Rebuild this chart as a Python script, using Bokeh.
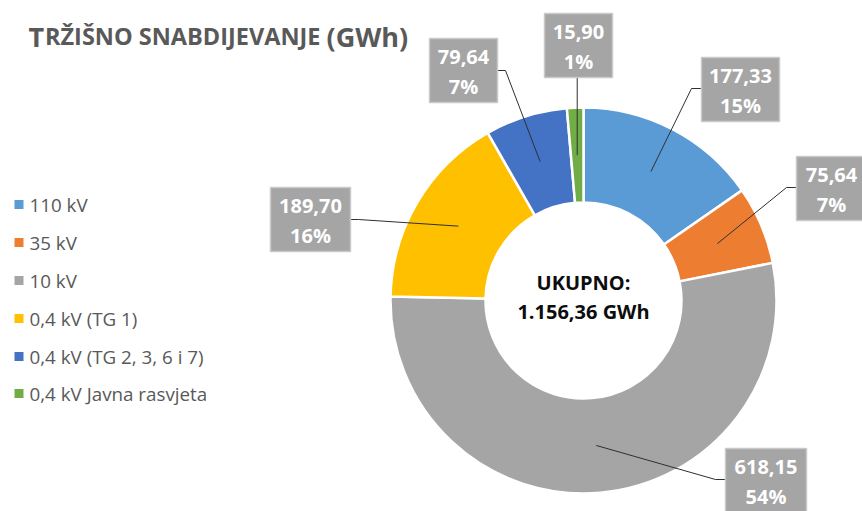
import math
from bokeh.plotting import figure
from bokeh.models import Range1d
from bokeh.core.properties import value
from bokeh.embed import file_html
from bokeh.resources import INLINE

# ---------------- data ----------------
categories = ["110 kV", "35 kV", "10 kV", "0,4 kV (TG 1)",
              "0,4 kV (TG 2, 3, 6 i 7)", "0,4 kV Javna rasvjeta"]
values = [177.33, 75.64, 618.15, 189.70, 79.64, 15.90]
pct_labels = ["15%", "7%", "54%", "16%", "7%", "1%"]
colors = ["#5B9BD5", "#ED7D31", "#A5A5A5", "#FFC000", "#4472C4", "#70AD47"]
title_parts = ["T", "RŽIŠNO SNABDIJEVANJE", "(GWh)"]
total_caption = "UKUPNO:"
unit = "GWh"

# ---------------- layout (screen px) ----------------
W, H = 862, 511
def sy(y):  # screen y -> data y
    return H - y

CX, CY = 583, sy(300)
R_OUT, R_IN = 193, 98
R_MID = (R_OUT + R_IN) / 2

# label boxes: center x, center y (screen), width, attach side
boxes = [
    (740, 89, 78, "left"),
    (831, 188, 70, "left"),
    (765.5, 480, 81, "left"),
    (310, 219, 80, "right"),
    (463, 70, 68, "right"),
    (578, 45, 68, "bottom"),
]
BOX_H = 64

p = figure(width=W, height=H, output_backend="svg", toolbar_location=None,
           x_range=Range1d(0, W), y_range=Range1d(0, H),
           x_axis_type=None, y_axis_type=None, min_border=0,
           outline_line_color=None, background_fill_color="white",
           border_fill_color="white")
p.grid.visible = False

total = sum(values)
fracs = [v / total for v in values]
cum = [0.0]
for f in fracs:
    cum.append(cum[-1] + f)

# clockwise from 12 o'clock
starts = [math.pi / 2 - 2 * math.pi * cum[i + 1] for i in range(len(values))]
ends = [math.pi / 2 - 2 * math.pi * cum[i] for i in range(len(values))]

p.annular_wedge(x=CX, y=CY, inner_radius=R_IN, outer_radius=R_OUT,
                start_angle=starts, end_angle=ends, fill_color=colors,
                line_color="white", line_width=2.5)

# leader lines
xs, ys = [], []
for i, (bx, by, bw, side) in enumerate(boxes):
    theta = 2 * math.pi * (cum[i] + cum[i + 1]) / 2
    ax = CX + R_MID * math.sin(theta)
    ay = CY + R_MID * math.cos(theta)
    if side == "left":
        px0, py0 = bx - bw / 2, sy(by - 1)
        ex, ey = px0 - 10, py0
        xs.append([px0, ex, ax]); ys.append([py0, ey, ay])
    elif side == "right":
        px0, py0 = bx + bw / 2, sy(by)
        ex, ey = px0 + 8, py0
        xs.append([px0, ex, ax]); ys.append([py0, ey, ay])
    else:
        px0, py0 = ax, sy(by + BOX_H / 2)
        xs.append([px0, ax]); ys.append([py0, ay])
p.multi_line(xs=xs, ys=ys, line_color="#303030", line_width=1)

# label boxes
p.rect(x=[b[0] for b in boxes], y=[sy(b[1]) for b in boxes],
       width=[b[2] for b in boxes], height=BOX_H,
       fill_color="#A5A5A5", line_color="#C9C9C9", line_width=1.5)

val_labels = [f"{v:.2f}".replace(".", ",") for v in values]
p.text(x=[b[0] for b in boxes], y=[sy(b[1] - 14) for b in boxes], text=val_labels,
       text_font=value("Open Sans"), text_font_size=value("20px"),
       text_font_style="bold", text_color="white",
       text_align="center", text_baseline="middle")
p.text(x=[b[0] for b in boxes], y=[sy(b[1] + 16) for b in boxes], text=pct_labels,
       text_font=value("Open Sans"), text_font_size=value("20px"),
       text_font_style="bold", text_color="white",
       text_align="center", text_baseline="middle")

# center text
tot_str = f"{total:,.2f}".replace(",", "X").replace(".", ",").replace("X", ".")
p.text(x=[CX, CX], y=[sy(282), sy(311)], text=[total_caption, f"{tot_str} {unit}"],
       text_font=value("Open Sans"), text_font_size=value("20px"),
       text_font_style="bold", text_color="#0D0D0D",
       text_align="center", text_baseline="middle")

# legend
leg_y = [204, 242, 280, 318, 356, 393]
p.scatter(x=[18.5] * len(categories), y=[sy(v) for v in leg_y], marker="square",
          size=9, fill_color=colors, line_color=None)
p.text(x=[29] * len(categories), y=[sy(v) for v in leg_y], text=categories,
       text_font=value("Open Sans"), text_font_size=value("18.8px"),
       text_color="#595959", text_align="left", text_baseline="middle")

# title (small caps imitation)
p.text(x=[28, 326], y=[sy(35.7), sy(35.7)], text=[title_parts[0], title_parts[2]],
       text_font=value("Open Sans"), text_font_size=value("27px"),
       text_font_style="bold", text_color="#595959",
       text_align="left", text_baseline="alphabetic")
p.text(x=[44.5], y=[sy(35.7)], text=[title_parts[1]],
       text_font=value("Open Sans"), text_font_size=value("23.5px"),
       text_font_style="bold", text_color="#595959",
       text_align="left", text_baseline="alphabetic")

open("out.html", "w").write(file_html(p, INLINE))
